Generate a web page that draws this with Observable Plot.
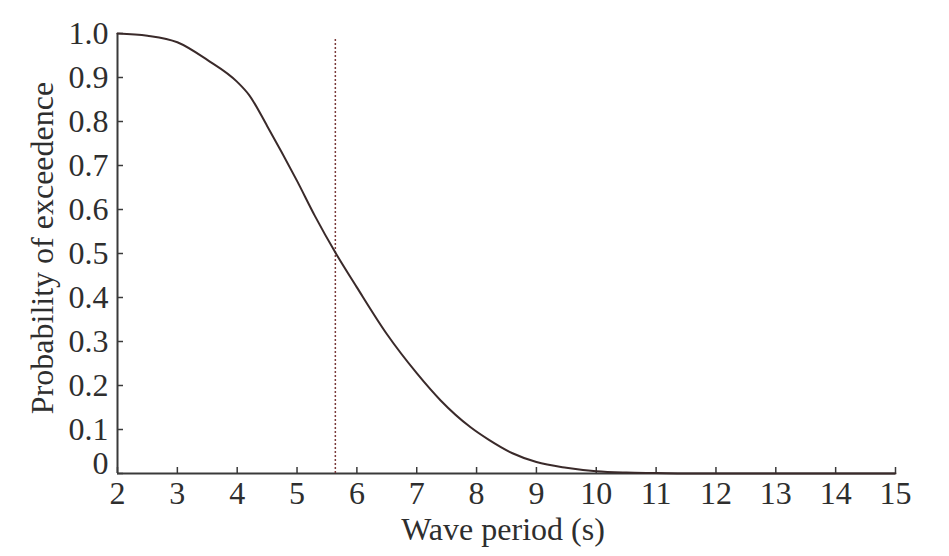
<!DOCTYPE html>
<html>
<head>
<meta charset="utf-8">
<script src="https://cdn.jsdelivr.net/npm/d3@7"></script>
<script src="https://cdn.jsdelivr.net/npm/@observablehq/plot@0.6"></script>
<style>
  html, body { margin: 0; padding: 0; background: #fff; }
  #chart { width: 949px; height: 556px; }
</style>
</head>
<body>
<div id="chart"></div>
<script>
// Data
const period = [2, 2.5, 3, 3.5, 4, 4.2, 4.5, 5, 5.3, 5.65, 6, 6.5, 7, 7.4, 7.9, 8.2, 8.6, 9, 9.5, 10, 10.5, 11, 11.5, 12, 13, 14, 15];
const exceed = [1.0, 0.995, 0.98, 0.94, 0.89, 0.86, 0.79, 0.665, 0.585, 0.5, 0.423, 0.317, 0.228, 0.166, 0.105, 0.077, 0.046, 0.026, 0.013, 0.005, 0.002, 0.001, 0, 0, 0, 0, 0];
const medianPeriod = [5.64];
const medianTop = [0.99];
const xTicks = [2, 3, 4, 5, 6, 7, 8, 9, 10, 11, 12, 13, 14, 15];
const yTicks = [0, 0.1, 0.2, 0.3, 0.4, 0.5, 0.6, 0.7, 0.8, 0.9, 1.0];
const xLabel = "Wave period (s)";
const yLabel = "Probability of exceedence";

const data = period.map((p, i) => ({p, e: exceed[i]}));
const W = 949, H = 556;
const mL = 117, mR = 54, mT = 33, mB = 83;
const plotW = W - mL - mR, plotH = H - mT - mB;
const tickLen = 6;
const axisColor = "#3a3a3a";
const textColor = "#2e2e2e";
const font = "'Liberation Serif', 'DejaVu Serif', serif";

const chart = Plot.plot({
  width: W,
  height: H,
  marginLeft: mL,
  marginRight: mR,
  marginTop: mT,
  marginBottom: mB,
  style: {fontFamily: font, fontSize: "32px", color: textColor, background: "#fff"},
  x: {domain: [2, 15]},
  y: {domain: [0, 1]},
  marks: [
    // tick labels
    Plot.axisX({ticks: xTicks, tickSize: 0, tickPadding: 8, tickFormat: d => String(d), fontSize: 32, fill: textColor, label: null}),
    Plot.axisY({ticks: yTicks.filter(d => d !== 0), tickSize: 0, tickPadding: 9, tickFormat: d => d.toFixed(1), fontSize: 32, fill: textColor, label: null}),
    Plot.text(yTicks.filter(d => d === 0), {x: xTicks[0], y: d => d, text: () => "0", textAnchor: "end", dx: -9, dy: -10, fontSize: 32, fill: textColor}),
    // inward ticks
    Plot.tickY(yTicks, {y: d => d, insetRight: plotW - tickLen, stroke: axisColor, strokeWidth: 1.5}),
    Plot.tickX(xTicks, {x: d => d, insetTop: plotH - tickLen, stroke: axisColor, strokeWidth: 1.5}),
    // axis lines
    Plot.ruleX([xTicks[0]], {stroke: axisColor, strokeWidth: 2}),
    Plot.ruleY([yTicks[0]], {stroke: axisColor, strokeWidth: 2}),
    // median marker
    Plot.ruleX(medianPeriod, {x: d => d, y1: 0, y2: medianTop[0], stroke: "#7a3a3a", strokeWidth: 1.5, strokeDasharray: "2,2"}),
    // curve
    Plot.line(data, {x: "p", y: "e", curve: "monotone-x", stroke: "#3a2a2a", strokeWidth: 2})
  ]
});

// axis titles
const svg = d3.select(chart);
svg.append("text")
  .attr("x", mL + plotW / 2 - 3)
  .attr("y", 540)
  .attr("text-anchor", "middle")
  .attr("font-family", font)
  .attr("font-size", 32)
  .attr("fill", textColor)
  .text(xLabel);
svg.append("text")
  .attr("transform", `translate(53, ${mT + plotH / 2 - 5}) rotate(-90)`)
  .attr("text-anchor", "middle")
  .attr("font-family", font)
  .attr("font-size", 32)
  .attr("fill", textColor)
  .text(yLabel);

document.getElementById("chart").appendChild(chart);
</script>
</body>
</html>
